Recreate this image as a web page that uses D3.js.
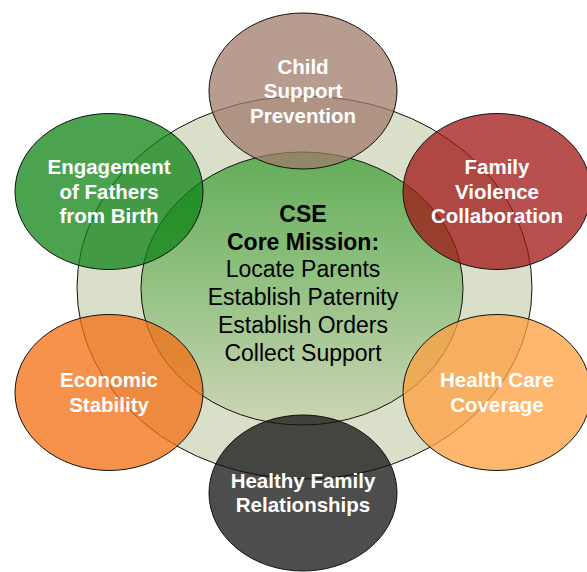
<!DOCTYPE html>
<html lang="en">
  <head>
    <meta charset="utf-8">
    <title>CSE Core Mission</title>
    <style>
    body { margin: 0; background: #fff; }
    text { font-family: "Liberation Sans", Arial, sans-serif; }
    </style>
    <script type="text/javascript" src="https://cdn.jsdelivr.net/npm/d3@7/dist/d3.min.js"></script>
  </head>
  <body>
    <script type="text/javascript">

      // Data: satellite labels, clockwise from the top
      var satelliteLabels = [
        ["Child", "Support", "Prevention"],
        ["Family", "Violence", "Collaboration"],
        ["Health Care", "Coverage"],
        ["Healthy Family", "Relationships"],
        ["Economic", "Stability"],
        ["Engagement", "of Fathers", "from Birth"]
      ];
      var missionTitle = ["CSE", "Core Mission:"];
      var missionLines = ["Locate Parents", "Establish Paternity", "Establish Orders", "Collect Support"];

      // Colours of the satellites (same order as labels)
      var satelliteColors = ["#a07b6b", "#a01616", "#ff9f3e", "#121212", "#f36e10", "#0f8416"];

      var width = 587;
      var height = 572;

      var svg = d3.select("body")
          .append("svg")
          .attr("width", width)
          .attr("height", height);

      var defs = svg.append("defs");
      var grad = defs.append("linearGradient")
          .attr("id", "coreGrad")
          .attr("x1", 0).attr("y1", 0)
          .attr("x2", 0).attr("y2", 1);
      grad.append("stop").attr("offset", "0%").attr("stop-color", "#62ad58");
      grad.append("stop").attr("offset", "45%").attr("stop-color", "#8fc07f");
      grad.append("stop").attr("offset", "100%").attr("stop-color", "#cdd5b6");

      // Outer ring
      svg.append("ellipse")
          .attr("cx", 304.5).attr("cy", 287.5)
          .attr("rx", 227.5).attr("ry", 191.5)
          .attr("fill", "#d9dfc9")
          .attr("stroke", "#111")
          .attr("stroke-width", 1);

      // Core
      svg.append("ellipse")
          .attr("cx", 302).attr("cy", 288.5)
          .attr("rx", 161).attr("ry", 136.5)
          .attr("fill", "url(#coreGrad)")
          .attr("stroke", "#111")
          .attr("stroke-width", 1);

      // Core text
      var lineH = 27.7;
      var core = svg.append("g").attr("transform", "translate(303,222)");
      core.selectAll("text.title")
        .data(missionTitle)
        .enter()
        .append("text")
        .attr("class", "title")
        .attr("text-anchor", "middle")
        .attr("y", (d, i) => i * lineH)
        .attr("font-size", "23px")
        .attr("font-weight", "bold")
        .attr("fill", "#000")
        .text(d => d);
      core.selectAll("text.line")
        .data(missionLines)
        .enter()
        .append("text")
        .attr("class", "line")
        .attr("text-anchor", "middle")
        .attr("y", (d, i) => (i + missionTitle.length) * lineH)
        .attr("font-size", "23px")
        .attr("fill", "#000")
        .text(d => d);

      // Satellites placed on an ellipse around the core
      var angle = d3.scaleLinear()
          .domain([0, satelliteLabels.length])
          .range([-Math.PI / 2, 3 * Math.PI / 2]);
      var color = d3.scaleOrdinal()
          .domain(d3.range(satelliteLabels.length))
          .range(satelliteColors);
      var ringCx = 303, ringCy = 292, ringRx = 224, ringRy = 201;

      var sats = svg.selectAll("g.sat")
        .data(satelliteLabels)
        .enter()
        .append("g")
        .attr("class", "sat")
        .attr("transform", function(d, i) {
          var a = angle(i);
          return "translate(" + (ringCx + ringRx * Math.cos(a)) + "," + (ringCy + ringRy * Math.sin(a)) + ")";
        });

      sats.append("ellipse")
          .attr("rx", 94).attr("ry", 78)
          .attr("fill", (d, i) => color(i))
          .attr("fill-opacity", 0.75)
          .attr("stroke", "#111")
          .attr("stroke-width", 1);

      var satLineH = 24.5;
      sats.selectAll("text")
        .data(d => d.map((t, j) => ({ text: t, j: j, n: d.length })))
        .enter()
        .append("text")
        .attr("text-anchor", "middle")
        .attr("y", d => (d.j - (d.n - 1) / 2) * satLineH + 7)
        .attr("font-size", "20.5px")
        .attr("font-weight", "bold")
        .attr("fill", "#fff")
        .text(d => d.text);

    </script>
  </body>
</html>
